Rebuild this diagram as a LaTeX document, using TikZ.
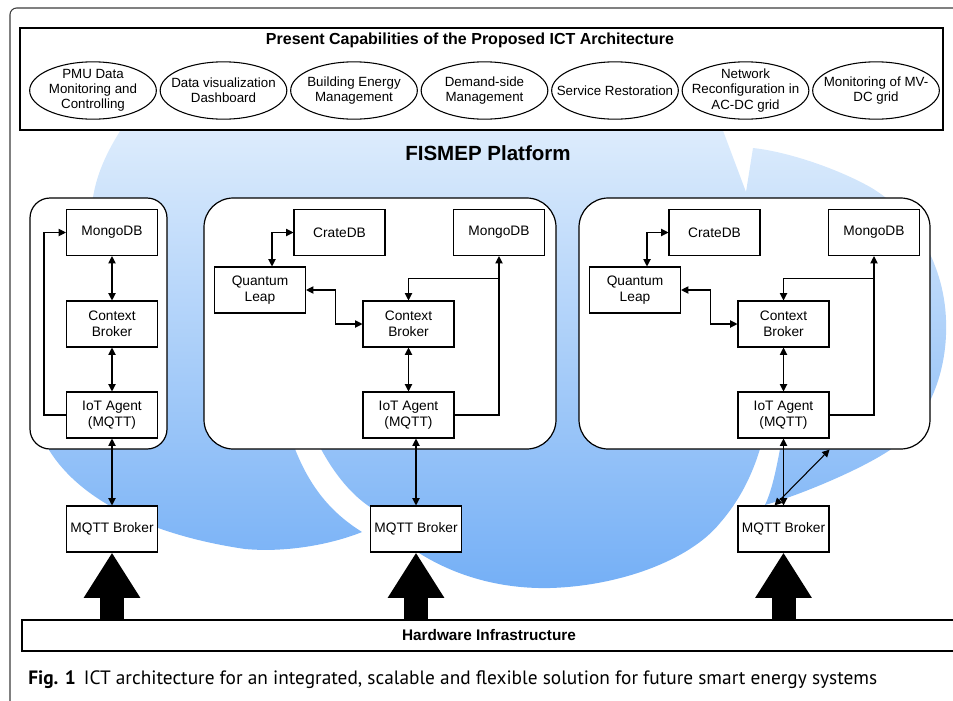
\documentclass[tikz,border=0pt]{standalone}
\usepackage{fontspec}
\setmainfont{Liberation Sans}
\newfontfamily\capfont{PT Sans}
\usetikzlibrary{positioning,shapes.geometric,arrows.meta}
\definecolor{cloudtop}{HTML}{DDECFC}
\definecolor{cloudbot}{HTML}{74AFF6}
\definecolor{framegray}{HTML}{3C3C3C}

\tikzset{
  comp/.style={draw, fill=white, line width=0.8pt, minimum width=68.25pt, minimum height=34.5pt, inner sep=1pt, align=center, font=\fontsize{10.3}{12}\selectfont},
  platbox/.style={draw, fill=white, line width=0.9pt, minimum height=188.25pt},
  capell/.style={draw, ellipse, line width=0.8pt, minimum width=95pt, minimum height=43pt, inner sep=0pt},
  capelltext/.style={align=center, font=\fontsize{10}{11.3}\selectfont, inner sep=0pt},
  dlink/.style={line width=0.8pt, {Triangle[length=5.5pt,width=5.5pt]}-{Triangle[length=5.5pt,width=5.5pt]}},
  slink/.style={line width=0.8pt, -{Triangle[length=5.5pt,width=5.5pt]}},
  feed/.style={line width=18pt, -{Triangle[length=34pt,width=40pt]}}
}

\begin{document}
\begin{tikzpicture}[x=0.75pt, y=-0.75pt]
    \useasboundingbox (0,0) rectangle (953,700);

    % Cloud background
    \shade[top color=cloudtop, bottom color=cloudbot] (122,128)
        .. controls (108,150) and (95,175) .. (92,205)
        .. controls (80,300) and (55,380) .. (49,450)
        .. controls (80,500) and (150,535) .. (245,549)
        .. controls (290,553) and (335,543) .. (362,532)
        .. controls (335,515) and (312,492) .. (295,449)
        -- (321,449)
        .. controls (335,475) and (352,495) .. (370,507)
        .. controls (395,545) and (460,590) .. (550,588)
        .. controls (620,586) and (690,560) .. (720,523)
        .. controls (740,500) and (752,475) .. (760,449)
        -- (780,449)
        .. controls (776,470) and (772,490) .. (765,505)
        .. controls (800,495) and (860,470) .. (890,450)
        .. controls (930,420) and (948,370) .. (946,320)
        .. controls (944,260) and (910,210) .. (870,187)
        .. controls (840,170) and (790,152) .. (753,148)
        -- (746,192) -- (722,128) -- cycle;

    % Figure frame
    \draw[framegray, line width=0.8pt, rounded corners=5pt] (10,720) -- (10,8) -- (970,8);

    % Capabilities
    \node[draw, fill=white, line width=0.8pt, minimum width=692.25pt, minimum height=76.5pt] (capbox) at (481.5,79) {};
    \node[font=\bfseries\fontsize{12}{14}\selectfont] (captitle) at (470,40) {Present Capabilities of the Proposed ICT Architecture};
    \foreach \i/\txt in {1/{PMU Data\\Monitoring and\\Controlling}, 2/{Data visualization\\Dashboard},
        3/{Building Energy\\Management}, 4/{Demand-side\\Management}, 5/{Service Restoration},
        6/{Network\\Reconfiguration in\\AC-DC grid}, 7/{Monitoring of MV-\\DC grid}} {
        \node[capell, label={[capelltext]center:\txt}] (cap\i) at ({93+130.5*(\i-1)},90.5) {};
    }

    \node[font=\bfseries\fontsize{15.4}{18}\selectfont] (fismep) at (488,153) {FISMEP Platform};

    % Platform groups
    \node[platbox, rounded corners=15pt, minimum width=102.75pt] (plat1) at (98.5,323.5) {};
    \node[platbox, rounded corners=22pt, minimum width=264pt] (plat2) at (380,323.5) {};
    \node[platbox, rounded corners=22pt, minimum width=263.25pt] (plat3) at (754.5,323.5) {};

    % Group 1
    \node[comp] (mongo1) at (112,232.5) {MongoDB};
    \node[comp] (ctx1) at (112,324) {Context\\Broker};
    \node[comp] (iot1) at (112,415) {IoT Agent\\(MQTT)};
    \node[comp] (mq1) at (112,529) {MQTT Broker};
    \draw[dlink] (mongo1) -- (ctx1);
    \draw[dlink] (ctx1) -- (iot1);
    \draw[slink] (iot1.west) -- ++(-16.5pt,0pt) |- (mongo1.west);
    \draw[dlink] (iot1) -- (mq1);

    % Groups 2 and 3
    \foreach \g/\dx in {2/0, 3/375} {
        \node[comp] (crate\g) at (339.5+\dx,232.5) {CrateDB};
        \node[comp] (mongo\g) at (499+\dx,232.5) {MongoDB};
        \node[comp] (ql\g) at (260+\dx,290) {Quantum\\Leap};
        \node[comp] (ctx\g) at (408.5+\dx,324) {Context\\Broker};
        \node[comp] (iot\g) at (408.5+\dx,415) {IoT Agent\\(MQTT)};
        \draw[dlink] ([xshift=9pt]ql\g.north) |- (crate\g.west);
        \draw[dlink] (ql\g.east) -- ++(21.75pt,0pt) |- (ctx\g.west);
        \draw[dlink] (ctx\g) -- (iot\g);
        \draw[slink] (iot\g.east) -| (mongo\g.south);
        \draw[slink] ([yshift=-17pt]mongo\g.south) -| (ctx\g.north);
    }
    \node[comp] (mq2) at (416,529) {MQTT Broker};
    \node[comp] (mq3) at (783.5,529) {MQTT Broker};
    \draw[dlink] (mq2.north) -- (mq2.north |- iot2.south);
    \draw[dlink] (mq3.north) -- (iot3.south);
    \draw[dlink] ([xshift=-6.75pt]mq3.north) -- (plat3.south -| iot3.east);

    % Hardware layer
    \node[draw, fill=white, line width=0.8pt, minimum width=700.5pt, minimum height=23.25pt,
          font=\bfseries\fontsize{11.5}{13}\selectfont] (hw) at (489,635.5) {Hardware Infrastructure};
    \foreach \m in {mq1, mq2, mq3} {
        \draw[feed] (hw.north -| \m) -- (\m.south);
    }

    % Caption
    \node[anchor=west, inner sep=0pt, font=\capfont\fontsize{14.5}{16}\selectfont] (figcap) at (28,680)
        {\textbf{Fig. 1}\hspace{6pt}ICT architecture for an integrated, scalable and flexible solution for future smart energy systems};
\end{tikzpicture}
\end{document}
